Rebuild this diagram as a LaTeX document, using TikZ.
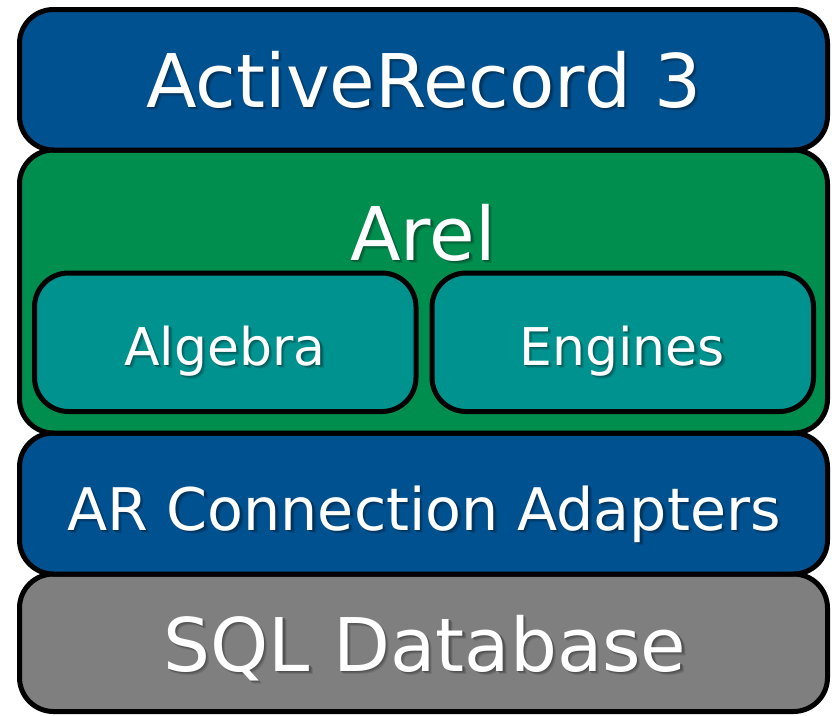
\documentclass[tikz,border=0pt]{standalone}
\usepackage{fontspec}
\setmainfont{DejaVu Sans}
\definecolor{layerblue}{RGB}{0,81,144}
\definecolor{layergreen}{RGB}{0,142,78}
\definecolor{layerteal}{RGB}{0,146,143}
\definecolor{layergray}{RGB}{127,127,127}
% white text with a soft drop shadow tinted from the background colour #1
\newcommand\dropshadowtext[2]{%
  \rlap{\kern3.5pt\raisebox{-3.5pt}{\color{#1!88!black}#2}}%
  \rlap{\kern2.5pt\raisebox{-2.5pt}{\color{#1!76!black}#2}}%
  \rlap{\kern1.5pt\raisebox{-1.5pt}{\color{#1!64!black}#2}}%
  {\color{white}#2}}
\tikzset{
  layer/.style={draw=black, line width=5pt, rounded corners=34pt},
  sublayer/.style={draw=black, line width=5pt, rounded corners=34pt, fill=layerteal},
  lbl/.style={anchor=base, inner sep=0pt},
  big/.style={font=\fontsize{74}{80}\selectfont},
  mid/.style={font=\fontsize{58.7}{64}\selectfont},
  small/.style={font=\fontsize{52}{58}\selectfont},
}
\begin{document}
\begin{tikzpicture}[x=1pt,y=-1pt]
  \useasboundingbox (0,0) rectangle (832,715);
  \fill[white] (0,0) rectangle (832,715);
  % stacked layers
  \draw[layer, fill=layergray]  (19.5,574)  rectangle (827.5,711.5);
  \draw[layer, fill=layerblue]  (19.5,433)  rectangle (827.5,574);
  \draw[layer, fill=layergreen] (19.5,150)  rectangle (827.5,433);
  \draw[layer, fill=layerblue]  (19.5,9.5)  rectangle (827.5,150);
  % Arel components
  \draw[sublayer] (34.5,273) rectangle (416,411.5);
  \draw[sublayer] (432,273) rectangle (813.5,411.5);
  % labels
  \node[lbl,big]   (ar3)  at (424,107) {\dropshadowtext{layerblue}{ActiveRecord 3}};
  \node[lbl,big]   (arel) at (423,260) {\dropshadowtext{layergreen}{Arel}};
  \node[lbl,small] (alg)  at (225,365) {\dropshadowtext{layerteal}{Algebra}};
  \node[lbl,small] (eng)  at (622,365) {\dropshadowtext{layerteal}{Engines}};
  \node[lbl,mid]   (conn) at (424,530) {\dropshadowtext{layerblue}{AR Connection Adapters}};
  \node[lbl,big]   (sql)  at (425,671) {\dropshadowtext{layergray}{SQL Database}};
\end{tikzpicture}
\end{document}
